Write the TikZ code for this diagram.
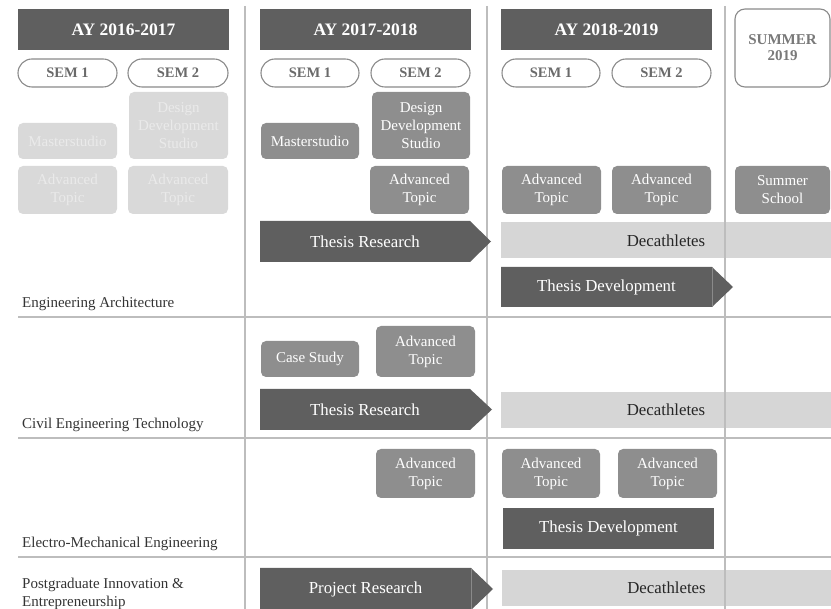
\documentclass[tikz,border=0pt]{standalone}
\usepackage{fontspec}
\setmainfont{Liberation Serif}
\definecolor{dk}{HTML}{5F5F5F}
\definecolor{md}{HTML}{8E8E8E}
\definecolor{lt}{HTML}{D6D6D6}
\definecolor{fd}{HTML}{D9D9D9}
\definecolor{fdt}{HTML}{EAEAEA}
\definecolor{ln}{HTML}{BDBDBD}
\definecolor{pl}{HTML}{8A8A8A}
\definecolor{plt}{HTML}{6A6A6A}
\tikzset{
 hdr/.style={fill=dk, text=white, font=\fontsize{17.5}{20}\selectfont\bfseries, minimum width=211pt, minimum height=41pt, inner sep=0pt},
 pill/.style={draw=pl, line width=1.1pt, fill=white, rounded corners=14pt, text=plt, font=\fontsize{14.5}{17}\selectfont\bfseries, minimum height=28pt, inner sep=0pt},
 sumbox/.style={draw=pl, line width=1.1pt, fill=white, rounded corners=10pt, text=plt!90, font=\fontsize{15}{16}\selectfont\bfseries, align=center, minimum width=95pt, minimum height=78pt, inner sep=0pt},
 box/.style={fill=md, text=white, rounded corners=5pt, font=\fontsize{15}{18}\selectfont, align=center, inner sep=0pt},
 fbox/.style={box, fill=fd, text=fdt},
 band/.style={fill=lt, text=black!85, font=\fontsize{16.8}{20}\selectfont, inner sep=0pt, minimum height=36pt},
 arrowtxt/.style={text=white, font=\fontsize{16.8}{20}\selectfont, inner sep=0pt},
 lbl/.style={text=black!80, font=\fontsize{15}{18}\selectfont, align=left, inner sep=0pt, anchor=base west},
 gridline/.style={draw=ln, line width=1.3pt},
 seam/.style={draw=pl, line width=0.6pt},
}
\begin{document}
\begin{tikzpicture}[x=1pt,y=-1pt]
\useasboundingbox (0,0) rectangle (831,609);
% decathletes bands
\node[band, minimum width=330pt] (d1) at (666,240.5) {Decathletes};
\node[band, minimum width=330pt] (d2) at (666,410) {Decathletes};
\node[band, minimum width=329pt] (d3) at (666.5,588) {Decathletes};
% grid lines
\coordinate (v1t) at (245,6); \coordinate (v1b) at (245,609);
\coordinate (v2t) at (487,6); \coordinate (v2b) at (487,609);
\coordinate (v3t) at (725,6); \coordinate (v3b) at (725,609);
\coordinate (h1l) at (18,317); \coordinate (h1r) at (831,317);
\coordinate (h2l) at (18,438); \coordinate (h2r) at (831,438);
\coordinate (h3l) at (18,557); \coordinate (h3r) at (831,557);
\draw[gridline] (v1t) -- (v1b);
\draw[gridline] (v2t) -- (v2b);
\draw[gridline] (v3t) -- (v3b);
\draw[gridline] (h1l) -- (h1r);
\draw[gridline] (h2l) -- (h2r);
\draw[gridline] (h3l) -- (h3r);
% headers
\node[hdr] (y1) at (123.5,29.5) {AY 2016-2017};
\node[hdr] (y2) at (365.5,29.5) {AY 2017-2018};
\node[hdr] (y3) at (606.5,29.5) {AY 2018-2019};
\node[sumbox] (su) at (782.5,48) {SUMMER\\2019};
% semesters
\node[pill, minimum width=99pt] (s11) at (67.5,73) {SEM 1};
\node[pill, minimum width=100pt] (s12) at (178,73) {SEM 2};
\node[pill, minimum width=98pt] (s21) at (310,73) {SEM 1};
\node[pill, minimum width=99pt] (s22) at (420.5,73) {SEM 2};
\node[pill, minimum width=98pt] (s31) at (551,73) {SEM 1};
\node[pill, minimum width=99pt] (s32) at (661.5,73) {SEM 2};
% row 1 faded
\node[fbox, minimum width=99pt, minimum height=36pt] (fm) at (67.5,141) {Masterstudio};
\node[fbox, minimum width=99pt, minimum height=67pt] (fdds) at (178.5,125.5) {Design\\Development\\Studio};
\node[fbox, minimum width=99pt, minimum height=48pt] (fat1) at (67.5,190) {Advanced\\Topic};
\node[fbox, minimum width=100pt, minimum height=48pt] (fat2) at (178,190) {Advanced\\Topic};
% row 1 col 2
\node[box, minimum width=98pt, minimum height=36pt] (ms) at (310,141) {Masterstudio};
\node[box, minimum width=98pt, minimum height=67pt] (dds) at (421,125.5) {Design\\Development\\Studio};
\node[box, minimum width=99pt, minimum height=48pt] (at1) at (419.5,190) {Advanced\\Topic};
% row 1 col 3
\node[box, minimum width=99pt, minimum height=48pt] (at2) at (551.5,190) {Advanced\\Topic};
\node[box, minimum width=99pt, minimum height=48pt] (at3) at (661.5,190) {Advanced\\Topic};
\node[box, minimum width=95pt, minimum height=48pt] (ss) at (782.5,190) {Summer\\School};
% row 1 arrows
\fill[dk] (260,221) -- (470,221) -- (491,241.5) -- (470,262) -- (260,262) -- cycle;
\node[arrowtxt] (tr1) at (365,241.5) {Thesis Research};
\fill[dk] (501,267) -- (712,267) -- (733,287) -- (712,307) -- (501,307) -- cycle;
\draw[seam] (712,267) -- (712,307);
\node[arrowtxt] (td1) at (606.5,287) {Thesis Development};
% row 2
\node[box, minimum width=98pt, minimum height=36pt] (cs) at (310,359) {Case Study};
\node[box, minimum width=99pt, minimum height=51pt] (at4) at (425.5,351.5) {Advanced\\Topic};
\fill[dk] (260,389) -- (470,389) -- (492,409.5) -- (470,430) -- (260,430) -- cycle;
\node[arrowtxt] (tr2) at (365,409.5) {Thesis Research};
% row 3
\node[box, minimum width=99pt, minimum height=49pt] (at5) at (425.5,473.5) {Advanced\\Topic};
\node[box, minimum width=98pt, minimum height=49pt] (at6) at (551,473.5) {Advanced\\Topic};
\node[box, minimum width=99pt, minimum height=49pt] (at7) at (667.5,473.5) {Advanced\\Topic};
\node[fill=dk, arrowtxt, minimum width=211pt, minimum height=41pt] (td2) at (608.5,528.5) {Thesis Development};
% row 4
\fill[dk] (260,568) -- (471,568) -- (493,589) -- (471,610) -- (260,610) -- cycle;
\draw[seam] (471,568) -- (471,610);
\node[arrowtxt] (pr) at (365.5,589) {Project Research};
% row labels
\node[lbl] (l1) at (22,308) {Engineering Architecture};
\node[lbl] (l2) at (22,429) {Civil Engineering Technology};
\node[lbl] (l3) at (22,548) {Electro-Mechanical Engineering};
\node[lbl] (l4) at (22,607) {Postgraduate Innovation \&\\Entrepreneurship};
\end{tikzpicture}
\end{document}
